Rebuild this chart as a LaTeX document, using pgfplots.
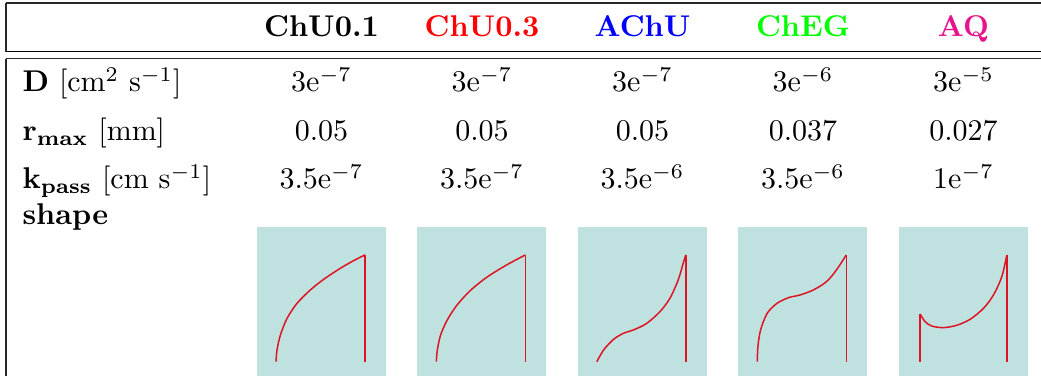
\documentclass[border=0pt]{standalone}
\usepackage{pgfplots}
\pgfplotsset{compat=1.18}
\usepackage{xcolor}
\definecolor{boxbg}{RGB}{191,226,225}
\definecolor{curve}{RGB}{222,20,35}
\definecolor{aqcol}{RGB}{232,20,140}
\definecolor{chegcol}{RGB}{0,255,0}
\definecolor{rulecol}{RGB}{40,40,40}

\pgfplotsset{
  shapebox/.style={
    scale only axis,
    width=43pt, height=49.67pt,
    xmin=-0.2135, xmax=1.236,
    ymin=-0.134, ymax=1.262,
    axis background/.style={fill=boxbg},
    axis line style={draw=none},
    ticks=none,
    anchor=south west,
  },
  cv/.style={color=curve, line width=0.5pt, no marks},
}

\begin{document}
\begin{tikzpicture}[x=0.3333pt, y=0.3333pt]
\path[use as bounding box] (0,0) rectangle (1041,376);
% rules
\draw[rulecol, line width=0.4pt] (6,373) -- (1041,373);
\draw[black, line width=0.5pt] (6,324.3) -- (1041,324.3);
\draw[rulecol, line width=0.4pt] (6,317.3) -- (1041,317.3);
\draw[rulecol, line width=0.45pt] (6,373) -- (6,324.3);
\draw[rulecol, line width=0.45pt] (6,317.3) -- (6,0);
% header
\node[anchor=base, inner sep=0] at (321.5,339.3) {\textbf{ChU0.1}};
\node[anchor=base, inner sep=0, text=red] at (482,339.3) {\textbf{ChU0.3}};
\node[anchor=base, inner sep=0, text=blue] at (642.5,339.3) {\textbf{AChU}};
\node[anchor=base, inner sep=0, text=chegcol] at (803,339.3) {\textbf{ChEG}};
\node[anchor=base, inner sep=0, text=aqcol] at (963.5,339.3) {\textbf{AQ}};
% row labels
\node[anchor=base west, inner sep=0] at (22,284) {\textbf{D} [cm$^2$ s$^{-1}$]};
\node[anchor=base west, inner sep=0] at (22,235) {\textbf{r}$_{\mathbf{max}}$ [mm]};
\node[anchor=base west, inner sep=0] at (22,187) {\textbf{k}$_{\mathbf{pass}}$ [cm s$^{-1}$]};
\node[anchor=base west, inner sep=0] at (22,151) {\textbf{shape}};
% values
\node[anchor=base, inner sep=0] at (321.5,284) {3e$^{-7}$};
\node[anchor=base, inner sep=0] at (482,284) {3e$^{-7}$};
\node[anchor=base, inner sep=0] at (642.5,284) {3e$^{-7}$};
\node[anchor=base, inner sep=0] at (803,284) {3e$^{-6}$};
\node[anchor=base, inner sep=0] at (963.5,284) {3e$^{-5}$};
\node[anchor=base, inner sep=0] at (321.5,235) {0.05};
\node[anchor=base, inner sep=0] at (482,235) {0.05};
\node[anchor=base, inner sep=0] at (642.5,235) {0.05};
\node[anchor=base, inner sep=0] at (803,235) {0.037};
\node[anchor=base, inner sep=0] at (963.5,235) {0.027};
\node[anchor=base, inner sep=0] at (321.5,187) {3.5e$^{-7}$};
\node[anchor=base, inner sep=0] at (482,187) {3.5e$^{-7}$};
\node[anchor=base, inner sep=0] at (642.5,187) {3.5e$^{-6}$};
\node[anchor=base, inner sep=0] at (803,187) {3.5e$^{-6}$};
\node[anchor=base, inner sep=0] at (963.5,187) {1e$^{-7}$};

% ChU0.1
\begin{axis}[shapebox, at={(85.667pt,0pt)}]
\addplot[cv, smooth] coordinates {(0,0) (0.011,0.109) (0.049,0.25) (0.124,0.406) (0.236,0.547) (0.386,0.672) (0.536,0.772) (0.723,0.875) (0.873,0.947) (1,1)};
\addplot[cv] coordinates {(1,1) (1,0)};
\end{axis}
% ChU0.3
\begin{axis}[shapebox, at={(139.1pt,0pt)}]
\addplot[cv, smooth] coordinates {(0,0) (0.011,0.109) (0.048,0.25) (0.122,0.39) (0.233,0.531) (0.381,0.666) (0.567,0.791) (0.789,0.906) (1,1)};
\addplot[cv] coordinates {(1,1) (1,0)};
\end{axis}
% AChU
\begin{axis}[shapebox, at={(192.6pt,0pt)}]
\addplot[cv, smooth] coordinates {(0,0) (0.075,0.109) (0.187,0.209) (0.299,0.266) (0.41,0.297) (0.56,0.359) (0.709,0.469) (0.821,0.594) (0.914,0.766) (0.97,0.922) (1,1)};
\addplot[cv] coordinates {(1,1) (1,0)};
\end{axis}
% ChEG
\begin{axis}[shapebox, at={(246.07pt,0pt)}]
\addplot[cv, smooth] coordinates {(0,0) (0.007,0.141) (0.037,0.297) (0.111,0.453) (0.222,0.547) (0.352,0.6) (0.481,0.625) (0.63,0.672) (0.778,0.75) (0.889,0.859) (1,1)};
\addplot[cv] coordinates {(1,1) (1,0)};
\end{axis}
% AQ
\begin{axis}[shapebox, at={(299.57pt,0pt)}]
\addplot[cv] coordinates {(0.026,0) (0.026,0.447)};
\addplot[cv, smooth] coordinates {(0.026,0.447) (0.082,0.375) (0.157,0.334) (0.288,0.319) (0.438,0.341) (0.588,0.397) (0.738,0.5) (0.85,0.625) (0.944,0.797) (1,1)};
\addplot[cv] coordinates {(1,1) (1,0)};
\end{axis}
\end{tikzpicture}
\end{document}
